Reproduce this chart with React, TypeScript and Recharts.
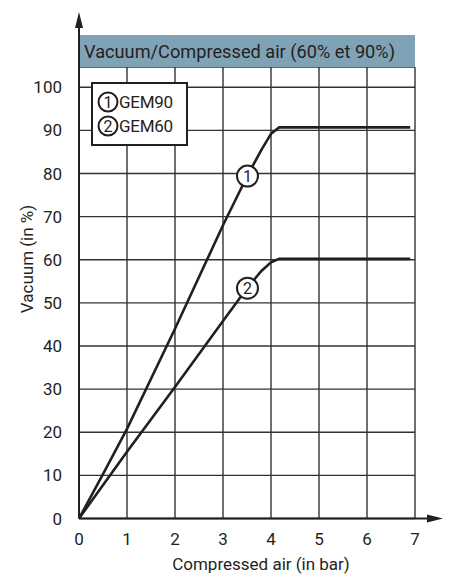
import React from 'react';
import { LineChart, Line, XAxis, YAxis, CartesianGrid, ReferenceArea, ReferenceDot, Legend, Label } from 'recharts';

// Vacuum (%) against compressed air (bar)
const gem90Pressure = [0, 0.5, 1, 2, 3, 3.5, 3.8, 4.0, 4.17, 6.9];
const gem90Vacuum = [0, 10.3, 20.8, 44, 68, 79.3, 85.5, 89.2, 90.7, 90.7];
const gem60Pressure = [0, 1, 2, 3, 3.5, 3.8, 4.0, 4.17, 6.9];
const gem60Vacuum = [0, 15.5, 30.5, 45.8, 53.4, 57.4, 59.4, 60.2, 60.2];

const xTicks = [0, 1, 2, 3, 4, 5, 6, 7];
const yTicks = [0, 10, 20, 30, 40, 50, 60, 70, 80, 90, 100];

const markers = [
  { id: '1', name: 'GEM90', x: 3.51, y: 79.4 },
  { id: '2', name: 'GEM60', x: 3.51, y: 53.4 },
];

const FONT = 'Roboto, "Liberation Sans", sans-serif';
const INK = '#231f20';

const gem90 = gem90Pressure.map((x, i) => ({ x, y: gem90Vacuum[i] }));
const gem60 = gem60Pressure.map((x, i) => ({ x, y: gem60Vacuum[i] }));

const CircledNumber = ({ n }: { n: string }) => (
  <svg width={22} height={22} style={{ flexShrink: 0, display: 'block' }}>
    <circle cx={11} cy={11} r={9.5} fill="white" stroke={INK} strokeWidth={2} />
    <text x={11} y={11} dy="0.36em" textAnchor="middle" fontSize={16} fill={INK} fontFamily={FONT}>{n}</text>
  </svg>
);

const LegendBox = () => (
  <div style={{
    border: `2.5px solid ${INK}`, background: 'white', padding: '6px 8px 6px 4px',
    fontFamily: FONT, fontSize: 17, color: INK, lineHeight: '24px', boxSizing: 'border-box', width: 97,
  }}>
    {markers.map(m => (
      <div key={m.id} style={{ display: 'flex', alignItems: 'center', whiteSpace: 'nowrap' }}>
        <CircledNumber n={m.id} />
        <span style={{ letterSpacing: '-0.3px' }}>{m.name}</span>
      </div>
    ))}
  </div>
);

const MarkerLabel = (props: any) => {
  const { viewBox, value } = props;
  const cx = viewBox.x + viewBox.width / 2;
  const cy = viewBox.y + viewBox.height / 2;
  return (
    <text x={cx} y={cy} dy="0.36em" textAnchor="middle" fontSize={16} fill={INK} fontFamily={FONT}>{value}</text>
  );
};

const App = () => {
  return (
    <div style={{ position: 'absolute', left: 0, top: 0, width: 449, height: 575, background: 'white' }}>
      <LineChart
        width={449}
        height={575}
        margin={{ top: 67, right: 34, bottom: 0, left: 0 }}
        style={{ fontFamily: FONT }}
      >
        <CartesianGrid stroke="#333" strokeWidth={1.4} />
        <XAxis
          type="number"
          dataKey="x"
          domain={[0, 7]}
          ticks={xTicks}
          height={56.5}
          axisLine={false}
          tickLine={false}
          tickMargin={8}
          tick={{ fontSize: 17, fill: INK, fontFamily: FONT }}
          allowDataOverflow
        >
          <Label value="Compressed air (in bar)" position="insideBottom" offset={5} dx={14} fontSize={17} fill={INK} fontFamily={FONT} />
        </XAxis>
        <YAxis
          type="number"
          dataKey="y"
          domain={[0, 104.7]}
          ticks={yTicks}
          width={79}
          axisLine={false}
          tickLine={false}
          tickMargin={11}
          tick={{ fontSize: 17, fill: INK, fontFamily: FONT }}
          allowDataOverflow
        >
          <Label
            content={() => (
              <text x={27} y={259} transform="rotate(-90, 27, 259)" textAnchor="middle" dy="0.36em" fontSize={17} fill={INK} fontFamily={FONT}>
                Vacuum (in %)
              </text>
            )}
          />
        </YAxis>
        <ReferenceArea
          x1={0}
          x2={7}
          y1={104.7}
          y2={112.1}
          ifOverflow="visible"
          fill="#7fa2b7"
          fillOpacity={1}
          stroke="none"
          label={(p: any) => (
            <text x={p.viewBox.x + 5} y={p.viewBox.y + p.viewBox.height / 2} dy="0.36em" fontSize={18} textLength={311} lengthAdjust="spacingAndGlyphs" fill={INK} fontFamily={FONT}>
              Vacuum/Compressed air (60% et 90%)
            </text>
          )}
        />
        <Line data={gem90} dataKey="y" type="linear" stroke={INK} strokeWidth={2.6} dot={false} isAnimationActive={false} name="GEM90" />
        <Line data={gem60} dataKey="y" type="linear" stroke={INK} strokeWidth={2.6} dot={false} isAnimationActive={false} name="GEM60" />
        {markers.map(m => (
          <ReferenceDot key={m.id} x={m.x} y={m.y} r={10.5} fill="white" stroke={INK} strokeWidth={2} label={<MarkerLabel value={m.id} />} />
        ))}
        <Legend
          layout="horizontal"
          verticalAlign="middle"
          align="center"
          content={() => <LegendBox />}
          wrapperStyle={{ left: 91, top: 82, width: 'auto', height: 'auto' }}
        />
      </LineChart>
      {/* axis lines with arrow heads */}
      <svg width={449} height={575} style={{ position: 'absolute', left: 0, top: 0, pointerEvents: 'none' }}>
        <line x1={79} y1={518.5} x2={79} y2={20} stroke={INK} strokeWidth={2} />
        <polygon points="79,12 75,28 83,28" fill={INK} />
        <line x1={79} y1={518.5} x2={430} y2={518.5} stroke={INK} strokeWidth={2} />
        <polygon points="443,518.5 427,514.5 427,522.5" fill={INK} />
      </svg>
    </div>
  );
};

export default App;
